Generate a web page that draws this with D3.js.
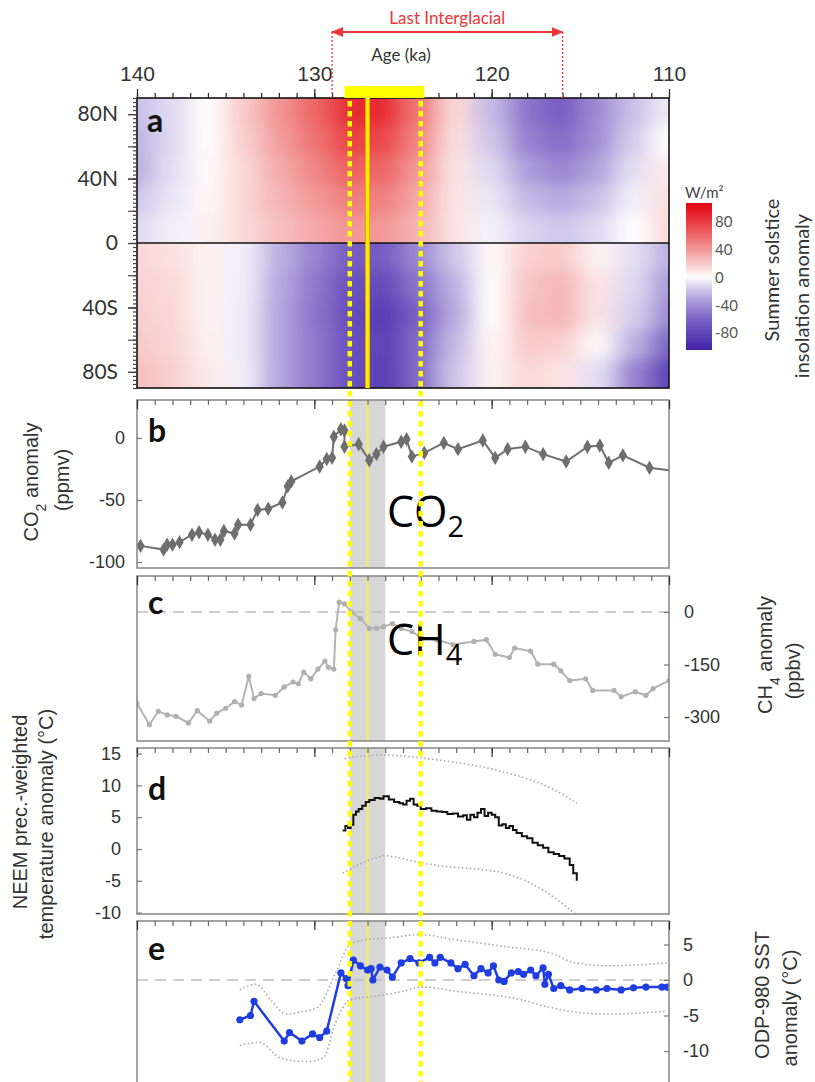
<!DOCTYPE html>
<html>
<head>
<meta charset="utf-8">
<script src="https://cdn.jsdelivr.net/npm/d3@7"></script>
<style>
  body { margin: 0; background: #fff; }
  svg text { font-family: "Liberation Sans", Arial, sans-serif; }
</style>
</head>
<body>
<div id="chart"></div>
<script>
// ---------- data ----------
// x axis (age, ka)
var ageTicks = [140, 130, 120, 110];
var minorAges = d3.range(110, 141, 1);

// panel a: summer solstice insolation anomaly (W/m2), 2 ka columns, 18 deg rows
var insolAges = [140, 138, 136, 134, 132, 130, 128, 126, 124, 122, 120, 118, 116, 114, 112, 110];
var insolLatsN = [81, 63, 45, 27, 9];
var insolLatsS = [-9, -27, -45, -63, -81];
var insol81N = [-20, -12, 0, 20, 42, 62, 88, 88, 55, 14, -22, -52, -64, -42, -20, -6];
var insol63N = [-24, -12, 0, 18, 38, 56, 78, 76, 48, 12, -18, -46, -55, -40, -16, 0];
var insol45N = [-26, -10, 2, 15, 32, 48, 64, 62, 40, 10, -12, -34, -44, -31, -10, 8];
var insol27N = [-18, -8, 3, 15, 28, 40, 52, 50, 33, 10, -8, -22, -28, -20, -5, 12];
var insol9N  = [-12, -5, 5, 14, 24, 33, 42, 40, 28, 10, -4, -14, -18, -12, 0, 15];
var insol9S  = [15, 12, 5, -5, -25, -45, -64, -64, -42, -18, 2, 18, 20, 5, -10, -25];
var insol27S = [17, 14, 5, -5, -28, -50, -72, -78, -52, -25, 0, 22, 28, 10, -12, -35];
var insol45S = [18, 15, 5, -6, -30, -52, -74, -88, -60, -28, 0, 24, 28, 10, -15, -42];
var insol63S = [20, 16, 6, -6, -30, -50, -72, -84, -56, -22, 3, 20, 18, 2, -25, -60];
var insol81S = [24, 18, 8, -5, -30, -50, -72, -86, -56, -18, 5, 15, 10, -10, -45, -84];
var latTicks = [80, 40, 0, -40, -80];
var latLabels = ["80N", "40N", "0", "40S", "80S"];
var cbTicks = [80, 40, 0, -40, -80];

// panel b: CO2 anomaly (ppmv)
var co2Age = [139.8, 138.5, 138.3, 138.0, 137.6, 136.9, 136.5, 136.0, 135.6, 135.3, 135.1, 134.5, 134.3,
  133.6, 133.2, 132.6, 131.8, 131.5, 131.3, 129.7, 129.3, 129.0, 128.9, 128.5, 128.3, 128.3, 127.5,
  126.9, 126.5, 126.1, 125.1, 124.8, 124.5, 123.8, 122.7, 121.9, 120.5, 119.8, 119.1, 118.1, 117.1,
  115.8, 114.6, 113.9, 113.4, 112.6, 111.1, 110.0];
var co2Val = [-87, -90, -86, -86, -84, -78, -76, -78, -82, -82, -75, -77, -70,
  -70, -58, -57, -52, -39, -35, -23, -17, -16, 1, 7, 6, -7, -5,
  -18, -13, -7, -3, -1, -15, -12, -4, -9, -2, -16, -9, -7, -13,
  -19, -7, -6, -20, -14, -24, -26];
var co2Ticks = [0, -50, -100];

// panel c: CH4 anomaly (ppbv)
var ch4Age = [140.0, 139.3, 138.8, 138.3, 137.8, 137.1, 136.6, 135.9, 135.5, 135.0, 134.5, 134.1, 133.7,
  133.4, 133.0, 132.2, 131.7, 131.2, 130.9, 130.6, 130.2, 129.8, 129.4, 129.2, 128.9, 128.8, 128.6,
  128.3, 127.9, 127.4, 126.9, 126.5, 126.1, 125.6, 125.1, 124.5, 123.9, 123.1, 122.2, 121.0, 120.3,
  119.8, 119.0, 118.7, 117.8, 117.4, 116.5, 116.1, 115.6, 114.7, 114.3, 113.1, 112.7, 111.9, 111.3,
  110.9, 110.0];
var ch4Val = [-261, -322, -284, -294, -298, -317, -282, -312, -289, -275, -256, -266, -184,
  -247, -233, -238, -214, -200, -205, -172, -191, -163, -140, -158, -163, -51, 28,
  23, 0, -19, -47, -47, -42, -33, -47, -56, -75, -79, -93, -84, -79,
  -121, -130, -103, -112, -149, -149, -168, -196, -191, -224, -224, -242, -228, -238,
  -219, -196];
var ch4Ticks = [0, -150, -300];

// panel d: NEEM precipitation-weighted temperature anomaly (deg C)
var neemAge = [128.4, 128.25, 128.1, 127.95, 127.8, 127.65, 127.5, 127.3, 127.1, 126.9, 126.6, 126.3,
  126.1, 125.8, 125.5, 125.2, 125.0, 124.8, 124.6, 124.4, 124.2, 124.0, 123.7, 123.4, 123.1, 122.8,
  122.5, 122.2, 121.9, 121.6, 121.4, 121.2, 121.0, 120.8, 120.6, 120.4, 120.2, 120.0, 119.8, 119.6,
  119.4, 119.2, 119.0, 118.8, 118.6, 118.3, 118.0, 117.7, 117.4, 117.1, 116.8, 116.5, 116.2, 115.9,
  115.6, 115.4, 115.2];
var neemVal = [2.9, 3.6, 3.3, 3.8, 5.4, 5.9, 6.3, 6.8, 7.4, 7.7, 8.0, 7.9,
  8.3, 7.8, 7.4, 7.2, 7.0, 7.6, 7.9, 7.0, 6.8, 6.3, 6.4, 6.0, 5.9, 5.8,
  5.5, 5.6, 5.1, 5.3, 4.6, 5.4, 5.0, 5.7, 6.3, 5.2, 5.7, 5.4, 5.0, 3.7,
  3.9, 3.3, 3.6, 3.0, 2.5, 2.0, 1.7, 1.0, 0.6, 0.2, -0.5, -0.8, -1.1, -1.5,
  -2.5, -3.8, -5.0];
var neemHiAge = [128.3, 127.5, 126.0, 124.5, 123.0, 121.5, 120.0, 118.5, 117.2, 116.0, 115.2];
var neemHi = [14.2, 14.6, 14.8, 14.5, 14.0, 13.4, 12.6, 11.5, 10.3, 8.6, 7.2];
var neemLoAge = [128.4, 127.6, 126.8, 126.0, 125.0, 124.0, 122.5, 121.0, 119.5, 118.2, 117.0, 116.0, 115.2];
var neemLo = [-3.8, -2.6, -1.6, -1.0, -1.5, -2.2, -2.8, -3.1, -3.6, -4.8, -6.6, -8.6, -10.4];
var neemTicks = [15, 10, 5, 0, -5, -10];

// panel e: ODP-980 SST anomaly (deg C)
var sstAge = [134.2, 133.6, 133.4, 131.7, 131.4, 130.7, 130.1, 129.7, 129.3, 128.5, 128.2, 128.1,
  127.8, 127.4, 127.0, 126.8, 126.7, 126.3, 125.9, 125.6, 125.1, 124.6, 124.1, 123.5, 123.2, 122.9,
  122.3, 121.9, 121.5, 121.0, 120.6, 120.2, 119.9, 119.6, 119.3, 118.9, 118.5, 118.2, 117.8, 117.5,
  117.1, 117.0, 116.8, 116.5, 116.1, 115.6, 114.9, 114.1, 113.5, 112.7, 112.0, 111.3, 110.4, 110.1];
var sstVal = [-5.6, -5.0, -3.0, -8.6, -7.4, -8.6, -7.6, -8.1, -7.2, 1.0, 0.2, -0.8,
  2.8, 2.0, 1.4, 1.6, 0.0, 1.8, 1.4, 0.4, 2.4, 3.0, 2.4, 3.2, 2.4, 3.2,
  2.4, 1.6, 2.2, 0.6, 1.6, 1.0, 2.0, 0.0, -0.2, 1.0, 1.2, 0.8, 1.4, 0.6,
  1.7, -0.6, 0.8, -1.2, -0.8, -1.4, -1.2, -1.4, -1.2, -1.4, -1.1, -1.0, -1.0, -1.0];
var sstHiAge = [134.2, 133.3, 132.4, 131.6, 130.6, 129.8, 128.8, 128.0, 127.3, 125.6, 124.0, 122.4, 119.5, 116.4, 115.6, 113.5, 110.1];
var sstHi = [-1.4, -0.6, -3.0, -4.8, -4.4, -3.8, 1.0, 5.0, 5.6, 6.0, 6.4, 5.8, 4.8, 3.6, 2.6, 2.0, 2.4];
var sstLoAge = [134.2, 133.1, 131.9, 130.4, 129.5, 128.8, 128.0, 126.4, 125.0, 124.0, 121.9, 118.3, 116.8, 115.6, 113.5, 110.1];
var sstLo = [-9.2, -8.8, -11.0, -11.5, -11.0, -6.0, -2.8, -2.2, -1.6, -1.0, -1.6, -2.8, -3.8, -4.4, -4.8, -4.4];
var sstTicks = [5, 0, -5, -10];

// annotations
var ligAges = [129, 116];
var peakAge = 127;
var bandAges = [128, 126];
var dottedAges = [128, 124];
var barAges = [128.3, 123.8];

// ---------- layout ----------
var W = 815, H = 1082;
var svg = d3.select("#chart").append("svg").attr("width", W).attr("height", H);
var defs = svg.append("defs");

var x = d3.scaleLinear().domain([140, 110]).range([137, 669]);
var pA = {top: 98, bottom: 388};
var pB = {top: 400, bottom: 568};
var pC = {top: 576, bottom: 741};
var pD = {top: 748, bottom: 914};
var pE = {top: 921, bottom: 1092};

var yLat = d3.scaleLinear().domain([90, -90]).range([pA.top, pA.bottom]);
var yB = d3.scaleLinear().domain([0, -50]).range([438, 500]);
var yC = d3.scaleLinear().domain([0, -150]).range([612, 664.5]);
var yD = d3.scaleLinear().domain([0, 5]).range([849, 817.2]);
var yE = d3.scaleLinear().domain([0, 5]).range([980, 944.5]);

var insolColor = d3.scaleLinear()
  .domain([-105, -60, -25, 0, 25, 60, 105])
  .range(["#3f22a8", "#7b62c4", "#bcb0e2", "#ffffff", "#f6bcbc", "#ee6a6a", "#e30613"])
  .clamp(true);

var calibri = "Lato, 'Open Sans', sans-serif";
var plain = function(d) { return String(d); };   // hyphen minus, no decimals

function cleanAxis(g, color, size, family) {
  g.select(".domain").remove();
  g.selectAll(".tick line").attr("stroke", color).attr("stroke-width", 1.2);
  g.selectAll(".tick text").attr("fill", "#333")
    .style("font-size", size + "px").style("font-family", family || "Liberation Sans, Arial, sans-serif");
}

// ---------- panel a : insolation field ----------
defs.append("filter").attr("id", "smooth")
  .attr("filterUnits", "userSpaceOnUse")
  .attr("x", 0).attr("y", 0).attr("width", W).attr("height", H)
  .append("feGaussianBlur").attr("stdDeviation", "12 7");

function hemisphere(rows, lats, latTop, latBottom, id) {
  defs.append("clipPath").attr("id", id).append("rect")
    .attr("x", x(140)).attr("y", yLat(latTop))
    .attr("width", x(110) - x(140)).attr("height", yLat(latBottom) - yLat(latTop));
  var g = svg.append("g").attr("clip-path", "url(#" + id + ")")
    .append("g").attr("filter", "url(#smooth)");
  rows.forEach(function(row, ri) {
    row.forEach(function(v, ci) {
      var xa = x(insolAges[ci] + 1) - 0.5, xb = x(insolAges[ci] - 1) + 0.5;
      if (ci === 0) xa -= 45;
      if (ci === row.length - 1) xb += 45;
      var ya = yLat(lats[ri] + 9) - 0.5, yb = yLat(lats[ri] - 9) + 0.5;
      if (ri === 0) ya -= 40;
      if (ri === rows.length - 1) yb += 40;
      g.append("rect").attr("x", xa).attr("y", ya)
        .attr("width", xb - xa).attr("height", yb - ya)
        .attr("fill", insolColor(v));
    });
  });
}
hemisphere([insol81N, insol63N, insol45N, insol27N, insol9N], insolLatsN, 90, 0, "clipN");
hemisphere([insol9S, insol27S, insol45S, insol63S, insol81S], insolLatsS, 0, -90, "clipS");

svg.append("line").attr("x1", x(140)).attr("x2", x(110))
  .attr("y1", yLat(0)).attr("y2", yLat(0)).attr("stroke", "#111").attr("stroke-width", 1.6);
svg.append("rect").attr("x", x(140)).attr("y", pA.top)
  .attr("width", x(110) - x(140)).attr("height", pA.bottom - pA.top)
  .attr("fill", "none").attr("stroke", "#111").attr("stroke-width", 1.6);

// top age axis
svg.append("g").attr("transform", "translate(0," + pA.top + ")")
  .call(d3.axisTop(x).tickValues(minorAges).tickSize(5).tickFormat(""))
  .call(function(g) { cleanAxis(g, "#222", 20); });
svg.append("g").attr("transform", "translate(0," + pA.top + ")")
  .call(d3.axisTop(x).tickValues(ageTicks).tickSize(9).tickPadding(8).tickFormat(plain))
  .call(function(g) { cleanAxis(g, "#222", 21); });

// latitude axis
svg.append("g").attr("transform", "translate(" + x(140) + ",0)")
  .call(d3.axisLeft(yLat).tickValues(d3.range(-90, 90.1, 2.5)).tickSize(4).tickFormat(""))
  .call(function(g) { cleanAxis(g, "#444", 18); });
svg.append("g").attr("transform", "translate(" + x(140) + ",0)")
  .call(d3.axisLeft(yLat).tickValues(d3.range(-80, 81, 20)).tickSize(9).tickFormat(""))
  .call(function(g) { cleanAxis(g, "#444", 18); });
svg.append("g").attr("transform", "translate(" + x(140) + ",0)")
  .call(d3.axisLeft(yLat).tickValues(latTicks).tickSize(9).tickPadding(10)
    .tickFormat(function(d, i) { return latLabels[i]; }))
  .call(function(g) { cleanAxis(g, "#444", 21, calibri); });

svg.append("text").attr("x", 147).attr("y", 132).text("a")
  .style("font-family", calibri).style("font-weight", "bold").style("font-size", "32px").attr("fill", "#111");

// colour bar
var yCb = d3.scaleLinear().domain([80, -80]).range([222, 333]);
var grad = defs.append("linearGradient").attr("id", "cbGrad")
  .attr("x1", 0).attr("x2", 0).attr("y1", 0).attr("y2", 1);
d3.range(0, 1.001, 0.05).forEach(function(t) {
  grad.append("stop").attr("offset", t)
    .attr("stop-color", insolColor(yCb.invert(203 + t * (350 - 203))));
});
svg.append("rect").attr("x", 686).attr("y", 203).attr("width", 26).attr("height", 147)
  .attr("fill", "url(#cbGrad)");
svg.append("g").attr("transform", "translate(712,0)")
  .call(d3.axisRight(yCb).tickValues(cbTicks).tickSize(0).tickPadding(3).tickFormat(plain))
  .call(function(g) { cleanAxis(g, "#555", 15, calibri); g.selectAll("text").attr("fill", "#555"); });
svg.append("text").attr("x", 685).attr("y", 198).text("W/m²")
  .style("font-family", calibri).style("font-size", "15px").attr("fill", "#444");
svg.append("text").attr("transform", "translate(772,270) rotate(-90)").attr("dy", "0.35em")
  .attr("text-anchor", "middle").text("Summer solstice")
  .style("font-family", calibri).style("font-size", "20px").attr("fill", "#333");
svg.append("text").attr("transform", "translate(802,296) rotate(-90)").attr("dy", "0.35em")
  .attr("text-anchor", "middle").text("insolation anomaly")
  .style("font-family", calibri).style("font-size", "20px").attr("fill", "#333");

// Last Interglacial annotation
var red = "#ee3535";
defs.append("marker").attr("id", "arrow").attr("viewBox", "0 0 12 10")
  .attr("refX", 11).attr("refY", 5).attr("markerWidth", 12).attr("markerHeight", 10)
  .attr("markerUnits", "userSpaceOnUse").attr("orient", "auto-start-reverse")
  .append("path").attr("d", "M0,0 L12,5 L0,10 z").attr("fill", red);
svg.append("line").attr("x1", x(ligAges[0])).attr("x2", x(ligAges[1]))
  .attr("y1", 32).attr("y2", 32).attr("stroke", red).attr("stroke-width", 1.8)
  .attr("marker-start", "url(#arrow)").attr("marker-end", "url(#arrow)");
ligAges.forEach(function(a) {
  svg.append("line").attr("x1", x(a)).attr("x2", x(a)).attr("y1", 32).attr("y2", pA.top)
    .attr("stroke", red).attr("stroke-width", 1.3).attr("stroke-dasharray", "2,2");
});
svg.append("text").attr("x", (x(ligAges[0]) + x(ligAges[1])) / 2).attr("y", 24)
  .attr("text-anchor", "middle").text("Last Interglacial")
  .style("font-family", calibri).style("font-size", "17px").attr("fill", red);
svg.append("text").attr("x", 401).attr("y", 61).attr("text-anchor", "middle").text("Age (ka)")
  .style("font-family", calibri).style("font-size", "17px").attr("fill", "#333");

// ---------- panels b-e common frame ----------
function frame(p, id) {
  defs.append("clipPath").attr("id", id).append("rect")
    .attr("x", x(140)).attr("y", p.top).attr("width", x(110) - x(140)).attr("height", p.bottom - p.top);
  svg.append("rect").attr("x", x(bandAges[0])).attr("y", p.top)
    .attr("width", x(bandAges[1]) - x(bandAges[0])).attr("height", p.bottom - p.top)
    .attr("fill", "#d7d7d7").attr("clip-path", "url(#" + id + ")");
  svg.append("line").attr("x1", x(peakAge)).attr("x2", x(peakAge))
    .attr("y1", p.top).attr("y2", p.bottom).attr("stroke", "#f3ec73").attr("stroke-width", 2.5)
    .attr("clip-path", "url(#" + id + ")");
  return svg.append("g").attr("clip-path", "url(#" + id + ")");
}
function border(p) {
  svg.append("rect").attr("x", x(140)).attr("y", p.top)
    .attr("width", x(110) - x(140)).attr("height", p.bottom - p.top)
    .attr("fill", "none").attr("stroke", "#8c8c8c").attr("stroke-width", 1.6);
  svg.append("g").attr("transform", "translate(0," + p.top + ")")
    .call(d3.axisBottom(x).tickValues(minorAges).tickSize(5).tickFormat(""))
    .call(function(g) { cleanAxis(g, "#666", 12); });
  svg.append("g").attr("transform", "translate(0," + p.top + ")")
    .call(d3.axisBottom(x).tickValues(ageTicks).tickSize(9).tickFormat(""))
    .call(function(g) { cleanAxis(g, "#333", 12); });
}
function letter(t, px, py) {
  svg.append("text").attr("x", px).attr("y", py).text(t)
    .style("font-family", calibri).style("font-weight", "bold").style("font-size", "32px").attr("fill", "#111");
}
function zeroLine(g, yv) {
  g.append("line").attr("x1", x(140)).attr("x2", x(110)).attr("y1", yv).attr("y2", yv)
    .attr("stroke", "#bdbdbd").attr("stroke-width", 1.6).attr("stroke-dasharray", "11,7");
}
function series(ages, vals) { return ages.map(function(a, i) { return [a, vals[i]]; }); }

// ---------- panel b : CO2 ----------
var gB = frame(pB, "clipB");
var co2 = series(co2Age, co2Val);
gB.append("path").datum(co2)
  .attr("d", d3.line().x(function(d) { return x(d[0]); }).y(function(d) { return yB(d[1]); }))
  .attr("fill", "none").attr("stroke", "#707070").attr("stroke-width", 2);
gB.selectAll("path.dia").data(co2.slice(0, -1)).enter().append("path").attr("class", "dia")
  .attr("d", d3.symbol().type(d3.symbolDiamond).size(60))
  .attr("transform", function(d) { return "translate(" + x(d[0]) + "," + yB(d[1]) + ")"; })
  .attr("fill", "#6e6e6e");
border(pB);
svg.append("g").attr("transform", "translate(" + x(140) + ",0)")
  .call(d3.axisLeft(yB).tickValues(co2Ticks).tickSize(-5).tickPadding(12).tickFormat(plain))
  .call(function(g) { cleanAxis(g, "#777", 18); });
letter("b", 148, 442);
var co2Title = svg.append("text").attr("transform", "translate(31,482) rotate(-90)").attr("dy", "0.35em")
  .attr("text-anchor", "middle").style("font-size", "20px").attr("fill", "#333");
co2Title.append("tspan").text("CO");
co2Title.append("tspan").text("2").attr("baseline-shift", "sub").style("font-size", "14px");
co2Title.append("tspan").text(" anomaly");
svg.append("text").attr("transform", "translate(62,480) rotate(-90)").attr("dy", "0.35em")
  .attr("text-anchor", "middle").text("(ppmv)").style("font-size", "20px").attr("fill", "#333");
var co2Big = svg.append("text").attr("x", 387).attr("y", 527)
  .style("font-family", "'Open Sans', sans-serif").style("font-size", "43px").attr("fill", "#000");
co2Big.append("tspan").text("CO");
co2Big.append("tspan").text("2").attr("dy", 10).style("font-size", "29px");

// ---------- panel c : CH4 ----------
var gC = frame(pC, "clipC");
zeroLine(gC, yC(0));
var ch4 = series(ch4Age, ch4Val);
gC.append("path").datum(ch4)
  .attr("d", d3.line().x(function(d) { return x(d[0]); }).y(function(d) { return yC(d[1]); }))
  .attr("fill", "none").attr("stroke", "#b4b4b4").attr("stroke-width", 2);
gC.selectAll("circle").data(ch4).enter().append("circle")
  .attr("cx", function(d) { return x(d[0]); }).attr("cy", function(d) { return yC(d[1]); })
  .attr("r", 2.6).attr("fill", "#b0b0b0");
border(pC);
svg.append("g").attr("transform", "translate(" + x(110) + ",0)")
  .call(d3.axisRight(yC).tickValues(ch4Ticks).tickSize(-5).tickPadding(15).tickFormat(plain))
  .call(function(g) { cleanAxis(g, "#777", 18); });
letter("c", 148, 614);
var ch4Title = svg.append("text").attr("transform", "translate(765,655) rotate(-90)").attr("dy", "0.35em")
  .attr("text-anchor", "middle").style("font-size", "20px").attr("fill", "#333");
ch4Title.append("tspan").text("CH");
ch4Title.append("tspan").text("4").attr("baseline-shift", "sub").style("font-size", "14px");
ch4Title.append("tspan").text(" anomaly");
svg.append("text").attr("transform", "translate(793,671) rotate(-90)").attr("dy", "0.35em")
  .attr("text-anchor", "middle").text("(ppbv)").style("font-size", "20px").attr("fill", "#333");
var ch4Big = svg.append("text").attr("x", 387).attr("y", 655)
  .style("font-family", "'Open Sans', sans-serif").style("font-size", "43px").attr("fill", "#000");
ch4Big.append("tspan").text("CH");
ch4Big.append("tspan").text("4").attr("dy", 10).style("font-size", "29px");

// ---------- panel d : NEEM ----------
var gD = frame(pD, "clipD");
var lineD = d3.line().x(function(d) { return x(d[0]); }).y(function(d) { return yD(d[1]); });
[series(neemHiAge, neemHi), series(neemLoAge, neemLo)].forEach(function(s) {
  svg.append("path").datum(s).attr("d", lineD).attr("fill", "none")
    .attr("stroke", "#a8a8a8").attr("stroke-width", 1.6).attr("stroke-dasharray", "1.5,2.5");
});
gD.append("path").datum(series(neemAge, neemVal)).attr("d", lineD.curve(d3.curveStepAfter))
  .attr("fill", "none").attr("stroke", "#111").attr("stroke-width", 2);
border(pD);
svg.append("g").attr("transform", "translate(" + x(140) + ",0)")
  .call(d3.axisLeft(yD).tickValues(neemTicks).tickSize(-5).tickPadding(16).tickFormat(plain))
  .call(function(g) { cleanAxis(g, "#777", 18); });
letter("d", 148, 800);
svg.append("text").attr("transform", "translate(20,812) rotate(-90)").attr("dy", "0.35em")
  .attr("text-anchor", "middle").text("NEEM prec.-weighted").style("font-size", "20px").attr("fill", "#333");
svg.append("text").attr("transform", "translate(46,824) rotate(-90)").attr("dy", "0.35em")
  .attr("text-anchor", "middle").text("temperature anomaly (°C)").style("font-size", "20px").attr("fill", "#333");

// ---------- panel e : ODP-980 SST ----------
var gE = frame(pE, "clipE");
zeroLine(gE, yE(0));
var lineE = d3.line().x(function(d) { return x(d[0]); }).y(function(d) { return yE(d[1]); });
[series(sstHiAge, sstHi), series(sstLoAge, sstLo)].forEach(function(s) {
  gE.append("path").datum(s).attr("d", lineE.curve(d3.curveMonotoneX)).attr("fill", "none")
    .attr("stroke", "#a8a8a8").attr("stroke-width", 1.6).attr("stroke-dasharray", "1.5,2.5");
});
var sst = series(sstAge, sstVal);
gE.append("path").datum(sst).attr("d", lineE.curve(d3.curveLinear))
  .attr("fill", "none").attr("stroke", "#1f3de0").attr("stroke-width", 2.5);
gE.selectAll("circle").data(sst).enter().append("circle")
  .attr("cx", function(d) { return x(d[0]); }).attr("cy", function(d) { return yE(d[1]); })
  .attr("r", 3.6).attr("fill", "#1f3de0");
border(pE);
svg.append("g").attr("transform", "translate(" + x(110) + ",0)")
  .call(d3.axisRight(yE).tickValues(sstTicks).tickSize(-5).tickPadding(14).tickFormat(plain))
  .call(function(g) { cleanAxis(g, "#777", 18); });
letter("e", 148, 960);
svg.append("text").attr("transform", "translate(762,995) rotate(-90)").attr("dy", "0.35em")
  .attr("text-anchor", "middle").text("ODP-980 SST").style("font-size", "20px").attr("fill", "#333");
svg.append("text").attr("transform", "translate(790,1008) rotate(-90)").attr("dy", "0.35em")
  .attr("text-anchor", "middle").text("anomaly (°C)").style("font-size", "20px").attr("fill", "#333");

// ---------- yellow markers on top ----------
svg.append("line").attr("x1", x(peakAge)).attr("x2", x(peakAge))
  .attr("y1", pA.top).attr("y2", pA.bottom).attr("stroke", "#f0a500").attr("stroke-width", 5);
svg.append("line").attr("x1", x(peakAge)).attr("x2", x(peakAge))
  .attr("y1", pA.top).attr("y2", pA.bottom).attr("stroke", "#ffee00").attr("stroke-width", 3);
svg.append("rect").attr("x", x(barAges[0])).attr("y", 86)
  .attr("width", x(barAges[1]) - x(barAges[0])).attr("height", 12).attr("fill", "#ffff00");
dottedAges.forEach(function(a) {
  svg.append("line").attr("x1", x(a)).attr("x2", x(a)).attr("y1", pA.top + 3).attr("y2", H)
    .attr("stroke", "#ffff00").attr("stroke-width", 4.5).attr("stroke-dasharray", "5.5,4.5");
});
</script>
</body>
</html>
